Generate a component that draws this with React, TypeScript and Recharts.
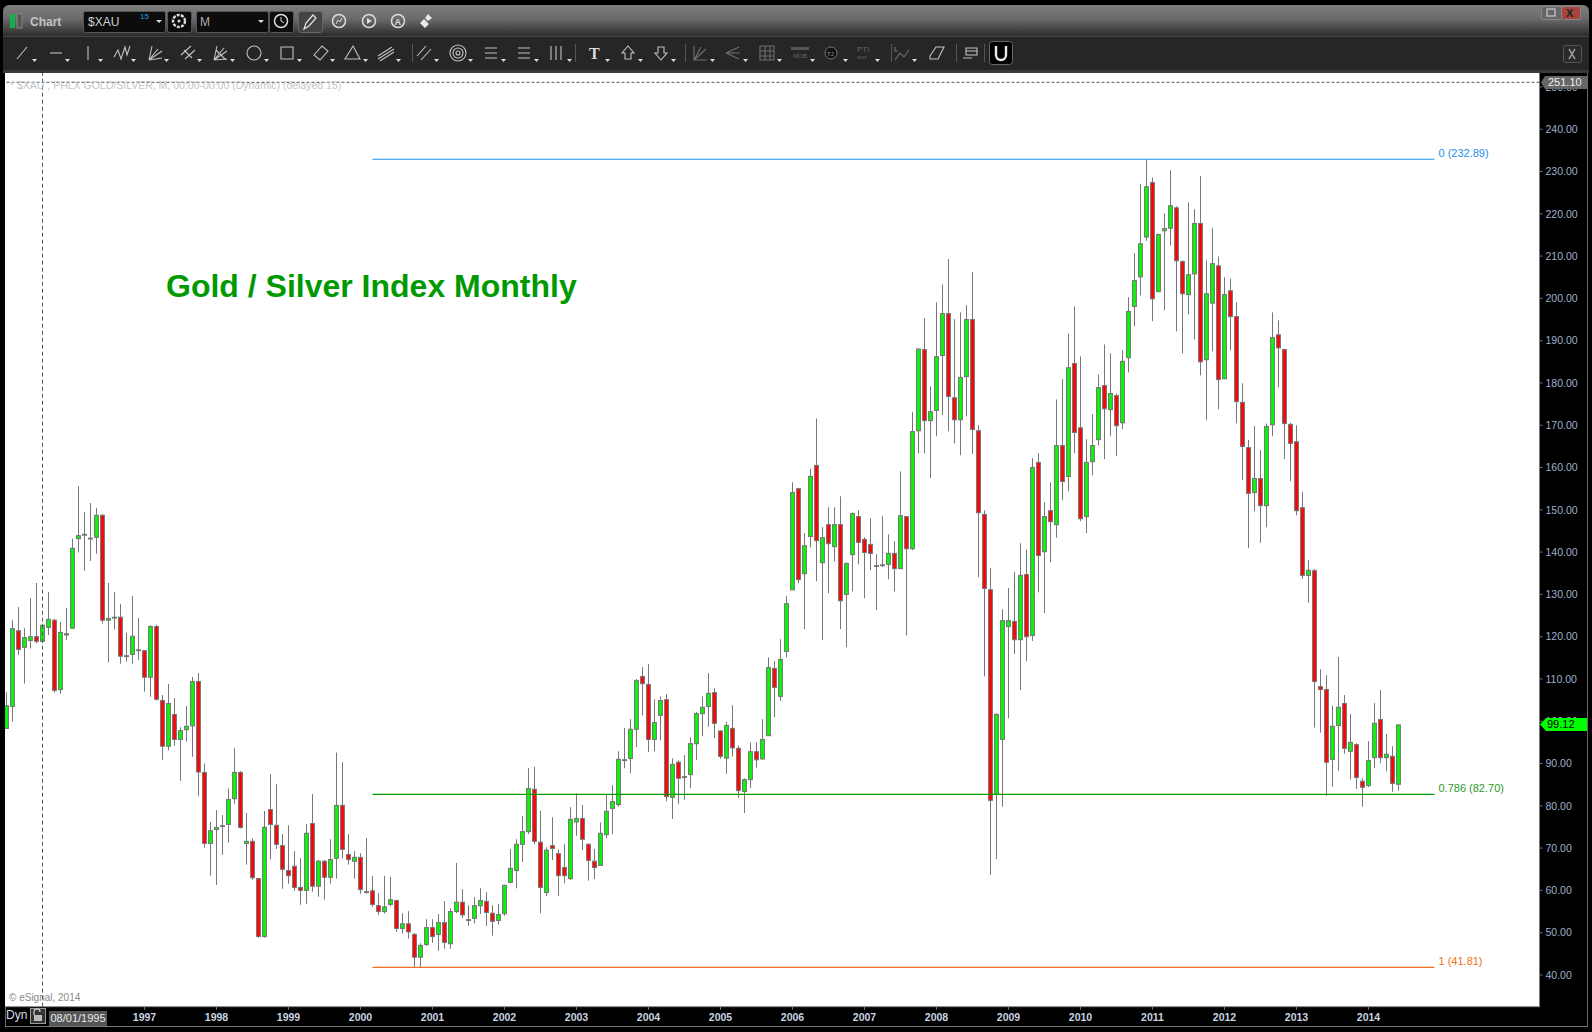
// App.tsx - $XAU monthly candlestick chart in an eSignal style window
import { ComposedChart, Bar, XAxis, YAxis, ReferenceLine } from 'recharts';

const opens = [
  98.3,103.5,121.4,117.5,119.1,120.0,118.9,122.2,123.9,107.5,
  120.4,122.0,143.2,144.0,143.1,143.5,148.7,123.9,124.4,124.6,
  115.3,115.8,116.7,116.7,110.4,122.4,104.9,94.1,101.6,95.7,
  98.0,98.9,109.4,87.9,71.1,74.4,75.1,75.6,81.7,87.9,
  71.1,71.6,62.8,49.1,79.1,75.4,70.6,64.7,65.7,60.7,
  60.0,75.8,61.0,66.9,63.1,67.6,80.1,68.5,66.9,67.8,
  59.5,59.9,56.4,55.0,56.7,57.6,51.0,52.1,49.6,44.2,
  47.2,51.2,49.6,52.4,47.4,55.0,57.2,52.9,53.4,56.4,
  57.4,54.6,52.9,54.5,61.9,64.7,70.9,73.9,83.9,71.4,
  59.5,70.6,68.7,65.4,62.8,76.2,77.0,70.9,66.9,65.9,
  73.2,79.4,80.3,90.7,91.2,98.1,110.6,108.7,95.7,101.4,
  105.1,82.0,90.3,86.7,87.4,94.7,101.8,103.5,106.8,97.7,
  91.3,98.3,93.6,83.4,86.2,92.8,91.1,96.6,112.5,105.9,
  116.5,131.1,155.0,134.9,143.7,160.5,137.5,146.5,141.3,146.5,
  130.0,139.4,148.4,143.0,141.8,136.6,136.8,137.1,139.7,136.1,
  148.4,140.8,168.7,187.9,171.1,173.5,186.5,196.4,176.5,171.3,
  181.5,195.0,168.7,148.9,131.1,82.7,95.7,122.4,123.6,119.3,
  134.7,120.3,161.2,140.1,149.8,146.5,165.2,157.9,184.6,169.4,
  148.4,161.4,166.6,179.4,173.7,177.0,170.6,186.0,198.1,205.1,
  214.5,227.4,201.6,216.0,216.6,221.4,208.7,200.9,205.8,217.7,
  185.5,198.9,207.7,181.0,201.8,195.7,175.4,164.7,154.1,157.4,
  151.0,170.1,191.4,187.9,170.2,166.1,150.5,134.5,135.6,108.2,
  107.5,91.0,99.0,104.2,92.9,94.5,85.8,84.8,91.4,100.4,91.4,91.7,85.1,
];

const highs = [
  106.9,123.9,127.0,122.0,129.1,132.7,123.1,130.6,124.2,123.5,
  126.8,143.2,155.6,149.5,151.6,150.4,149.0,132.7,130.6,127.7,
  120.9,129.6,124.4,116.8,122.7,122.8,106.2,108.8,105.5,98.6,
  103.6,110.5,111.4,90.0,76.2,79.0,77.8,84.1,93.6,88.2,
  78.3,72.3,62.9,78.8,87.5,85.1,73.3,75.4,69.3,67.6,
  75.7,82.8,67.2,67.2,72.1,92.6,90.3,73.3,69.3,68.8,
  72.4,63.4,59.4,63.4,63.2,57.8,54.6,55.1,49.9,47.5,
  53.2,53.2,54.4,57.5,55.8,66.5,60.3,56.5,58.4,60.5,
  59.6,56.5,56.8,61.3,69.8,72.1,77.6,88.9,89.2,78.8,
  70.2,77.3,69.7,71.0,79.7,83.0,80.2,71.1,69.8,76.1,
  82.8,84.9,92.9,98.4,100.5,110.0,112.8,113.5,105.2,105.9,
  106.4,91.2,90.8,92.0,96.2,102.2,105.9,111.4,107.8,97.9,
  99.9,103.8,94.3,86.5,95.0,95.0,100.5,115.1,114.2,119.4,
  129.6,156.5,155.2,144.5,159.7,171.6,145.9,150.6,150.6,153.2,
  137.6,149.4,149.9,143.5,148.0,139.5,148.5,144.2,142.6,159.1,
  148.4,173.1,188.2,195.3,179.2,199.1,203.3,209.3,195.1,196.7,
  198.4,206.2,170.0,149.9,136.2,101.9,126.5,131.5,135.3,142.1,
  140.6,162.2,163.4,151.8,156.5,176.1,180.9,191.7,198.1,186.3,
  166.7,172.6,182.0,189.1,187.0,177.5,187.7,200.3,210.7,227.0,
  232.89,228.6,215.3,220.1,230.3,221.8,209.0,222.7,221.1,228.9,
  209.0,216.6,209.9,205.0,204.7,199.1,179.9,166.5,169.8,164.1,
  170.4,196.7,194.8,188.1,170.6,170.0,154.2,138.1,136.0,112.3,
  110.9,103.7,115.2,106.2,101.7,94.8,86.5,95.3,104.3,107.4,97.0,94.1,99.3,
];

const lows = [
  98.3,99.9,115.7,108.9,117.2,118.4,118.6,120.4,106.8,106.5,
  119.2,122.0,139.9,135.6,137.9,139.6,123.1,113.9,121.7,113.6,
  114.1,113.6,114.5,107.0,105.8,104.9,90.9,93.1,94.2,85.9,
  95.2,91.6,82.3,70.1,63.5,61.3,68.4,71.3,80.5,74.6,
  66.1,62.5,48.8,48.8,67.4,69.8,60.4,61.6,59.9,56.6,
  56.8,59.7,58.5,57.8,61.6,62.8,67.6,66.1,62.8,59.2,
  59.2,56.1,54.2,54.5,56.2,50.2,49.8,48.6,41.8,41.8,
  46.9,47.6,45.7,46.2,46.2,54.6,53.5,51.6,52.2,54.4,
  51.6,49.3,51.9,54.0,61.7,60.5,66.7,73.3,71.0,54.6,
  58.7,67.2,58.7,61.7,62.4,72.9,69.5,62.3,62.7,65.9,
  72.4,73.3,79.8,88.9,87.7,93.9,101.4,92.7,92.9,95.5,
  81.1,76.9,80.4,81.4,84.2,90.8,96.5,98.7,96.0,91.1,
  87.6,91.7,81.9,78.3,84.2,89.0,90.9,96.6,101.0,104.8,
  115.1,131.1,132.7,121.8,141.1,133.1,119.2,130.3,137.8,121.8,
  117.5,130.7,137.1,129.1,135.7,126.3,136.5,133.6,130.7,136.1,
  120.3,140.4,163.4,163.4,157.5,167.4,172.4,168.6,165.7,162.9,
  172.1,163.2,134.1,110.6,63.7,67.4,79.8,100.7,115.9,107.4,
  114.2,119.0,130.5,125.6,137.6,143.4,152.3,154.4,163.4,147.3,
  144.5,158.2,165.3,162.0,167.4,162.7,169.1,182.5,193.4,200.7,
  213.6,194.6,201.6,197.2,212.5,192.2,187.0,196.2,190.3,181.8,
  171.2,187.5,173.8,181.0,187.7,170.5,157.0,141.0,149.7,142.2,
  145.9,167.4,179.0,162.0,156.8,148.7,133.7,128.0,98.5,97.3,
  82.4,84.5,88.3,92.3,86.2,84.0,79.8,84.4,88.9,90.1,88.2,83.3,83.6,
];

const closes = [
  103.7,121.9,117.0,119.8,120.0,118.9,122.7,124.1,107.3,121.0,
  120.7,140.9,143.9,144.2,143.3,148.7,123.9,124.3,124.6,115.4,
  115.5,120.1,116.9,110.4,122.4,105.2,94.1,104.2,95.7,97.8,
  98.8,109.4,88.0,71.1,74.1,74.9,75.3,81.5,87.9,74.9,
  71.6,63.0,49.1,74.9,75.6,70.9,65.0,63.5,60.7,60.0,
  73.5,61.0,66.9,63.1,67.3,80.1,69.7,67.3,67.8,60.2,
  59.7,56.7,55.0,56.1,57.8,51.0,52.1,50.2,44.2,47.0,
  51.2,49.1,52.4,47.7,55.0,57.2,54.2,53.1,56.4,57.6,
  54.8,52.7,54.3,61.2,65.2,70.9,73.9,84.1,71.6,60.7,
  69.5,69.9,63.5,63.5,76.8,77.0,72.1,67.1,65.4,73.5,
  78.7,81.0,91.0,90.9,98.1,109.6,108.9,95.7,99.7,104.9,
  82.2,89.8,86.5,86.9,94.7,101.8,103.3,106.6,99.5,91.7,
  99.0,93.7,83.6,86.2,92.8,90.9,95.7,112.7,108.0,114.6,
  127.8,154.1,133.5,141.5,157.9,142.7,143.4,142.0,146.5,128.5,
  137.3,149.1,142.3,139.9,139.7,136.8,137.0,139.7,136.1,148.6,
  140.8,168.5,188.0,171.1,173.2,186.2,196.4,176.8,171.3,181.3,
  195.0,169.0,149.3,131.4,81.3,101.6,123.8,123.8,119.3,134.5,
  120.0,160.0,139.2,148.4,147.2,165.2,156.7,183.6,168.3,147.9,
  161.2,165.2,178.9,173.9,177.5,169.9,185.1,196.9,204.2,212.9,
  226.4,199.9,215.1,216.5,221.9,208.9,201.1,205.6,217.7,185.0,
  201.1,208.2,180.8,200.9,195.7,175.6,165.0,153.9,157.4,151.0,
  169.7,190.7,188.3,170.4,165.7,149.8,134.5,135.7,109.4,107.5,
  90.3,98.8,103.3,93.6,95.0,86.7,84.4,90.7,99.5,91.4,92.2,85.3,99.12,
];

const priceTicks = [40, 50, 60, 70, 80, 90, 100, 110, 120, 130, 140, 150, 160, 170, 180, 190, 200, 210, 220, 230, 240, 250];
const yearTicks = [
  '1997-01', '1998-01', '1999-01', '2000-01', '2001-01', '2002-01', '2003-01', '2004-01', '2005-01',
  '2006-01', '2007-01', '2008-01', '2009-01', '2010-01', '2011-01', '2012-01', '2013-01', '2014-01',
];

// months from the first candle, the axis runs on past the last one
const months: string[] = [];
for (let i = 0; i < 256; i++) {
  const m = 1 + i;
  const year = 1995 + Math.floor(m / 12);
  months.push(`${year}-${String((m % 12) + 1).padStart(2, '0')}`);
}

const chartData = months.map((date, i) => ({
  date,
  open: opens[i],
  high: highs[i],
  low: lows[i],
  close: closes[i],
}));

const WICK = '#777777';
const UI_FONT = '"Liberation Sans", Arial, sans-serif';

function Candle(props: any) {
  const { x, y, width, height, payload } = props;
  if (payload.high == null) return null;
  const cx = Math.round(x + width / 2 - 0.5) + 0.5;
  const pxPerUnit = height / (payload.high - payload.low);
  const top = y + (payload.high - Math.max(payload.open, payload.close)) * pxPerUnit;
  const bodyHeight = Math.abs(payload.open - payload.close) * pxPerUnit;
  const up = payload.close >= payload.open;
  return (
    <g>
      <line x1={cx} x2={cx} y1={y} y2={y + height} stroke={WICK} strokeWidth={1} />
      <rect
        x={cx - 1.9}
        y={top}
        width={3.8}
        height={bodyHeight}
        fill={up ? '#00ff00' : '#ff0000'}
        stroke={WICK}
        strokeWidth={1.1}
      />
    </g>
  );
}

// drawing tools in the second row, x is the centre of the button
const toolIcons = [
  { x: 22, d: 'M-5 6L5 -6' },
  { x: 56, d: 'M-6 0H6' },
  { x: 88, d: 'M0 -7V7' },
  { x: 122, d: 'M-8 4L-4 -3L-1 6L3 -6L5 2L8 -7' },
  { x: 155, d: 'M-6 7L-3 -7M-6 7L7 -2M-6 7L7 5M-6 7L3 -4' },
  { x: 188, d: 'M-7 2L3 -7M-3 6L7 -3M-4 -3L4 5' },
  { x: 220, d: 'M-6 7L-3 -7M-6 7L7 -2M-6 7L7 6M-6 7L4 -5M-4 -3L6 7' },
  { x: 254, d: 'M7 0A7 7 0 1 1 -7 0A7 7 0 1 1 7 0' },
  { x: 287, d: 'M-6 -6H6V6H-6Z' },
  { x: 321, d: 'M-7 2L1 -7L7 -2L-1 7Z' },
  { x: 353, d: 'M0 -7L7 6H-8Z' },
  { x: 386, d: 'M-8 3L6 -6M-8 6L8 -4M-6 8L8 -1' },
  { x: 424, d: 'M-7 3L2 -7M-3 7L7 -4' },
  { x: 458, d: 'M8 0A8 8 0 1 1 -8 0A8 8 0 1 1 8 0M5 0A5 5 0 1 1 -5 0A5 5 0 1 1 5 0M2 0A2 2 0 1 1 -2 0A2 2 0 1 1 2 0' },
  { x: 491, d: 'M-6 -5H6M-6 0H6M-6 5H6' },
  { x: 524, d: 'M-6 -5H6M-6 0H6M-6 5H6' },
  { x: 556, d: 'M-5 -7V7M0 -7V7M5 -7V7' },
  { x: 628, d: 'M0 -7L6 0H3V6H-3V0H-6Z' },
  { x: 661, d: 'M0 7L6 0H3V-6H-3V0H-6Z' },
  { x: 937, d: 'M-7 3L-1 -6H7L1 6H-7Z' },
  { x: 970, d: 'M-4 -5H7V2H-4ZM-4 -2H7M-7 5H2' },
];
// these ones are greyed out in the toolbar
const dimIcons = [
  { x: 700, d: 'M-6 -7V7H7M-6 7L6 -4M-6 7L1 -6' },
  { x: 733, d: 'M-7 0L6 -6M-7 0L7 0M-7 0L6 6' },
  { x: 767, d: 'M-7 -7H7V7H-7ZM-7 -2H7M-7 3H7M-2 -7V7M3 -7V7' },
  { x: 902, d: 'M-7 -6V-2H-4M-7 7L-2 0L2 4L7 -3' },
];
const toolArrows = [34, 67, 100, 133, 166, 199, 232, 266, 299, 332, 365, 398, 436, 470, 503, 536, 569, 607, 640, 673, 712, 745, 779, 812, 845, 877, 914];

function WindowFrame() {
  return (
    <>
      <div style={{ position: 'absolute', left: 3, top: 5, width: 1586, height: 31, borderRadius: '6px 6px 0 0', background: 'linear-gradient(#7d7d7d, #6a6a6a 45%, #2c2c2c)' }} />
      <div style={{ position: 'absolute', left: 3, top: 36, width: 1586, height: 34, background: '#262626', borderTop: '1px solid #444', boxSizing: 'border-box' }} />
      <div style={{ position: 'absolute', left: 3, top: 70, width: 1586, height: 3, background: '#3a3a3a' }} />
      <div style={{ position: 'absolute', left: 5, top: 73, width: 1534.5, height: 933.7, background: '#ffffff' }} />
    </>
  );
}

function WindowChrome() {
  return (
    <>
      {/* black edges over the chart */}
      <div style={{ position: 'absolute', left: 0, top: 73, width: 5, height: 959, background: '#000' }} />
      <div style={{ position: 'absolute', left: 4.5, top: 1007, width: 1, height: 19, background: '#666' }} />
      <div style={{ position: 'absolute', left: 5, top: 1026, width: 1583, height: 1, background: '#777' }} />
      <div style={{ position: 'absolute', left: 1587, top: 73, width: 1, height: 953, background: '#666' }} />

      <svg width={1592} height={73} style={{ position: 'absolute', left: 0, top: 0 }}>
        <rect x={10} y={14} width={5} height={14} fill="#14b04a" />
        <rect x={17} y={14} width={5} height={14} fill="#555" stroke="#888" />
        <text x={30} y={26} fontFamily={UI_FONT} fontWeight={700} fontSize={12} fill="#c4c4c4">Chart</text>

        <rect x={83.5} y={11.5} width={82} height={21} rx={2} fill="#0c0c0c" stroke="#555" />
        <text x={88} y={26} fontFamily={UI_FONT} fontSize={12} fill="#cfcfcf">$XAU</text>
        <text x={140} y={19} fontFamily={UI_FONT} fontSize={8} fill="#18a8e0">15</text>
        <path d="M156 20h6l-3 3z" fill="#ddd" />
        <rect x={167.5} y={11.5} width={24} height={21} rx={2} fill="#0c0c0c" stroke="#555" />
        <circle cx={179} cy={21} r={6} fill="none" stroke="#ddd" strokeWidth={2.4} strokeDasharray="3 1.2" />
        <circle cx={179} cy={21} r={1.5} fill="#ddd" />

        <rect x={196.5} y={11.5} width={72} height={21} rx={2} fill="#0c0c0c" stroke="#555" />
        <text x={200} y={26} fontFamily={UI_FONT} fontSize={12} fill="#aaa">M</text>
        <path d="M258 20h6l-3 3z" fill="#ddd" />
        <rect x={269.5} y={11.5} width={24} height={21} rx={2} fill="#0c0c0c" stroke="#555" />
        <circle cx={281} cy={21} r={6.5} fill="none" stroke="#ddd" strokeWidth={1.5} />
        <path d="M281 17v4l3 2" fill="none" stroke="#ddd" />
        <rect x={298.5} y={11.5} width={24} height={21} rx={3} fill="#444" stroke="#6a6a6a" />
        <path d="M304 29l2-6 7-8 3 3-7 8z" fill="none" stroke="#e6e6e6" strokeWidth={1.2} />

        {/* round buttons of the first row */}
        <circle cx={339} cy={21} r={6.5} fill="none" stroke="#ddd" strokeWidth={1.5} />
        <path d="M336 24l2-4 2 2 2-4" fill="none" stroke="#ddd" />
        <circle cx={369} cy={21} r={6.5} fill="none" stroke="#ddd" strokeWidth={1.5} />
        <path d="M367 18v6l5-3z" fill="#ddd" />
        <circle cx={398} cy={21} r={6.5} fill="none" stroke="#ddd" strokeWidth={1.5} />
        <text x={394.5} y={25} fontFamily={UI_FONT} fontWeight={700} fontSize={9} fill="#ddd">A</text>
        <path d="M425 28l-5-5 4-4 5 5zM428 21l-3-3 3-4 4 4z" fill="#e8e8e8" />

        {/* window buttons */}
        <rect x={1541.5} y={6.5} width={20} height={13} rx={2} fill="#666" stroke="#888" />
        <rect x={1547} y={9} width={8} height={7} fill="none" stroke="#ddd" />
        <rect x={1561.5} y={6.5} width={19} height={13} rx={2} fill="#a8463e" stroke="#888" />
        <text x={1566} y={17} fontFamily={UI_FONT} fontWeight={700} fontSize={11} fill="#222">X</text>
        <rect x={1563.5} y={45.5} width={18} height={17} rx={2} fill="#2a2a2a" stroke="#555" />
        <path d="M1569 49l6 10M1575 49l-6 10" stroke="#999" strokeWidth={1.5} />

        {/* drawing tools */}
        {toolIcons.map((icon) => (
          <path key={icon.x} transform={`translate(${icon.x} 53)`} d={icon.d} fill="none" stroke="#c2c2c2" strokeWidth={1.1} />
        ))}
        {dimIcons.map((icon) => (
          <path key={icon.x} transform={`translate(${icon.x} 53)`} d={icon.d} fill="none" stroke="#6e6e6e" strokeWidth={1.1} />
        ))}
        {toolArrows.map((x) => (
          <path key={x} d={`M${x - 2} 59h5l-2.5 3z`} fill="#dddddd" />
        ))}
        <text x={589} y={59} fontFamily="Liberation Serif, serif" fontWeight={700} fontSize={16} fill="#dcdcdc">T</text>
        <rect x={791} y={47} width={18} height={3} fill="#555" />
        <text x={793} y={58} fontFamily={UI_FONT} fontSize={6} fill="#666">MOB</text>
        <circle cx={831} cy={53} r={6} fill="#111" stroke="#777" />
        <text x={827} y={56} fontFamily={UI_FONT} fontSize={6} fill="#999">TJ</text>
        <text x={857} y={52} fontFamily={UI_FONT} fontSize={8} fill="#666">PTI</text>
        <text x={857} y={59} fontFamily={UI_FONT} fontSize={5} fill="#666">xxxx</text>
        <path d="M412.5 44v18M685.5 44v18M575.5 44v18M891.5 44v18M956.5 44v18M984.5 44v18" stroke="#555" />
        <rect x={989.5} y={41.5} width={23} height={23} rx={3} fill="#000" stroke="#666" />
        <path d="M996 46v9a5 5 0 0 0 10 0v-9" fill="none" stroke="#e8e8e8" strokeWidth={2.4} />
      </svg>

      {/* texts on the chart */}
      <div style={{ position: 'absolute', left: 10, top: 79, fontFamily: UI_FONT, fontSize: 10.5, color: '#c2c6ca', whiteSpace: 'nowrap' }}>
        * $XAU , PHLX GOLD/SILVER, M, 00:00-00:00 (Dynamic) (delayed 15)
      </div>
      <div style={{ position: 'absolute', left: 166, top: 268, fontFamily: UI_FONT, fontWeight: 700, fontSize: 32, color: '#009900', whiteSpace: 'nowrap' }}>
        Gold / Silver Index Monthly
      </div>
      <div style={{ position: 'absolute', left: 9, top: 992, fontFamily: UI_FONT, fontSize: 10, color: '#8a8a8a', whiteSpace: 'nowrap' }}>
        © eSignal, 2014
      </div>

      {/* bottom bar */}
      <div style={{ position: 'absolute', left: 6, top: 1008, fontFamily: UI_FONT, fontSize: 12, color: '#d4dee8' }}>Dyn</div>
      <svg width={18} height={18} style={{ position: 'absolute', left: 30, top: 1008 }}>
        <rect x={0.5} y={0.5} width={15} height={15} fill="#333" stroke="#999" />
        <path d="M4 7V4a3 3 0 0 1 6 0" fill="none" stroke="#bbb" strokeWidth={1.4} />
        <rect x={4} y={7} width={8} height={6} fill="#bbb" />
      </svg>
      <div style={{ position: 'absolute', left: 49, top: 1011, width: 58, height: 15, background: '#555', fontFamily: UI_FONT, fontSize: 11, lineHeight: '15px', textAlign: 'center', color: '#e4eaf0' }}>
        08/01/1995
      </div>

      {/* price flags */}
      <div style={{ position: 'absolute', left: 1541, top: 76, width: 47, height: 13, background: '#666', clipPath: 'polygon(0 50%, 4px 0, 100% 0, 100% 100%, 4px 100%)', fontFamily: UI_FONT, fontSize: 11, lineHeight: '13px', color: '#f0f0f0', textIndent: 7 }}>
        251.10
      </div>
      <div style={{ position: 'absolute', left: 1540, top: 718, width: 47, height: 13, background: '#00ff00', clipPath: 'polygon(0 50%, 6px 0, 100% 0, 100% 100%, 6px 100%)', fontFamily: UI_FONT, fontSize: 11, lineHeight: '13px', color: '#000', textIndent: 7 }}>
        99.12
      </div>
    </>
  );
}

export default function App() {
  return (
    <div style={{ position: 'absolute', left: 0, top: 0, width: 1592, height: 1032, background: '#000', overflow: 'hidden' }}>
      <WindowFrame />
      <div style={{ position: 'absolute', left: 0, top: 0 }}>
        <ComposedChart
          width={1592}
          height={1032}
          data={chartData}
          margin={{ top: 73, right: 0, bottom: 0, left: 3.5 }}
          barCategoryGap={0}
        >
          <XAxis
            dataKey="date"
            ticks={yearTicks}
            interval={0}
            height={25.3}
            tickSize={3}
            tickMargin={4}
            tickFormatter={(v: string) => v.slice(0, 4)}
            stroke="#777"
            tick={{ fill: '#c8d4e0', fontSize: 10.5, fontWeight: 700, fontFamily: UI_FONT }}
          />
          <YAxis
            orientation="right"
            width={52.5}
            domain={[32.5, 253.3]}
            ticks={priceTicks}
            interval={0}
            allowDataOverflow
            tickSize={3}
            tickMargin={3}
            tickFormatter={(v: number) => v.toFixed(2)}
            stroke="#777"
            tick={{ fill: '#9fb0cc', fontSize: 10.5, fontFamily: UI_FONT }}
          />
          <ReferenceLine y={251.1} stroke="#555" strokeDasharray="3 2" />
          <ReferenceLine x="1995-08" stroke="#555" strokeDasharray="4 3" />
          <Bar
            dataKey={(d: any) => (d.high == null ? null : [d.low, d.high])}
            shape={Candle}
            isAnimationActive={false}
          />
          <ReferenceLine
            segment={[{ x: '2000-03', y: 232.89 }, { x: '2014-12', y: 232.89 }]}
            stroke="#1e90e8"
            strokeWidth={1.1}
            label={{ value: '0 (232.89)', position: 'right', offset: 4, dy: -6, fill: '#1e90e8', fontSize: 11, fontFamily: UI_FONT }}
          />
          <ReferenceLine
            segment={[{ x: '2000-03', y: 82.7 }, { x: '2014-12', y: 82.7 }]}
            stroke="#009900"
            strokeWidth={1.1}
            label={{ value: '0.786 (82.70)', position: 'right', offset: 4, dy: -6, fill: '#2a9a2a', fontSize: 11, fontFamily: UI_FONT }}
          />
          <ReferenceLine
            segment={[{ x: '2000-03', y: 41.81 }, { x: '2014-12', y: 41.81 }]}
            stroke="#f07020"
            strokeWidth={1.1}
            label={{ value: '1 (41.81)', position: 'right', offset: 4, dy: -6, fill: '#f07020', fontSize: 11, fontFamily: UI_FONT }}
          />
        </ComposedChart>
      </div>
      <WindowChrome />
    </div>
  );
}
